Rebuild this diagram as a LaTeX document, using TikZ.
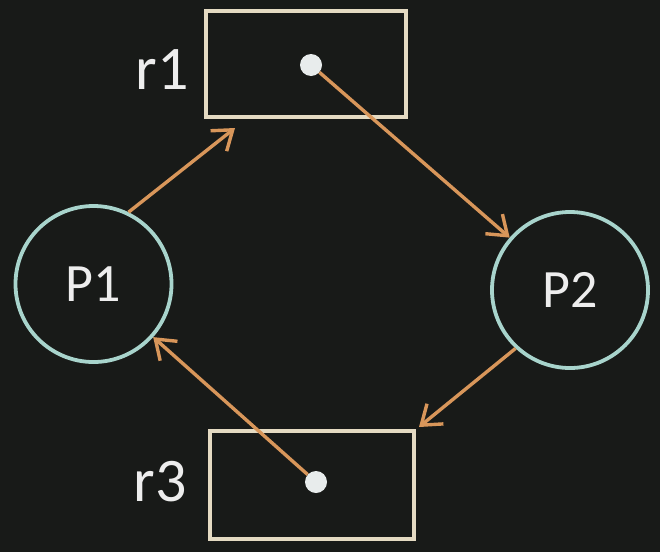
\documentclass[tikz,border=0pt]{standalone}
\usepackage{fontspec}
\setmainfont{Carlito}
\usetikzlibrary{arrows.meta}
\definecolor{bg}{HTML}{181A18}
\definecolor{boxc}{HTML}{E4DAC2}
\definecolor{circc}{HTML}{A8D4CC}
\definecolor{arr}{HTML}{D8965A}
\definecolor{txt}{HTML}{EDEDED}
\definecolor{dotc}{HTML}{E8ECEC}
\begin{document}
\begin{tikzpicture}[x=1pt,y=-1pt,
  res/.style={draw=boxc, line width=4pt, inner sep=0pt},
  proc/.style={circle, draw=circc, line width=3.8pt, minimum size=156pt, inner sep=0pt, text=txt, font=\fontsize{54}{60}\selectfont},
  dotn/.style={circle, fill=dotc, minimum size=22pt, inner sep=0pt},
  lab/.style={text=txt, font=\fontsize{62}{70}\selectfont, inner sep=0pt},
  req/.style={draw=arr, line width=3.4pt, -{Straight Barb[length=18pt,width=26pt,line width=3.4pt]}}]
\fill[bg] (0,0) rectangle (660,552);
\useasboundingbox (0,0) rectangle (660,552);
\node[res, minimum width=200.5pt, minimum height=106pt] (r1) at (305.75,64) {};
\node[res, minimum width=204pt, minimum height=108pt] (r3) at (312,485) {};
\node[proc] (P1) at (93.5,284) {P1};
\node[proc] (P2) at (570,290) {P2};
\node[dotn] (d1) at (311,65) {};
\node[dotn] (d3) at (316,482) {};
\node[lab] (l1) at (162,70) {r1};
\node[lab] (l3) at (160,482) {r3};
\coordinate (r1in) at (235,128);
\coordinate (r3in) at (419,427);
\draw[req] (P1.64) -- (r1in);
\draw[req] (d1) -- (P2);
\draw[req] (P2.227) -- (r3in);
\draw[req] (d3) -- (P1);
\end{tikzpicture}
\end{document}
